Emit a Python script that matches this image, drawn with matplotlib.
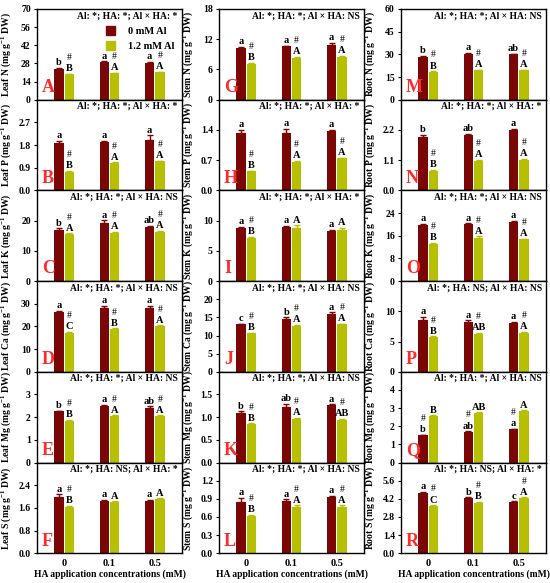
import numpy as np
import matplotlib

matplotlib.use("Agg")
import matplotlib.pyplot as plt
from matplotlib.patches import Patch

plt.rcParams.update({
    "font.family": ["Liberation Serif", "DejaVu Serif"],
    "font.weight": "bold",
    "mathtext.fontset": "custom",
    "mathtext.rm": "Liberation Serif:bold",
    "mathtext.it": "Liberation Serif:bold",
    "mathtext.bf": "Liberation Serif:bold",
    "axes.linewidth": 1.0,
})

C_CTRL = "#7a0606"
C_AL = "#b6c000"
C_TAG = "#ff2a2a"

ha_levels = ["0", "0.1", "0.5"]
elements = ["N", "P", "K", "Ca", "Mg", "S"]
organs = ["Leaf", "Stem", "Root"]
panel_tags = ["ABCDEF", "GHIJKL", "MNOPQR"]

# 0 mM Al means / SE, one row per element (N, P, K, Ca, Mg, S)
leaf_ctrl = [[23.5, 29.0, 28.5], [1.90, 1.92, 2.02], [17.0, 19.3, 18.0],
             [26.5, 28.3, 28.0], [2.25, 2.47, 2.40], [2.00, 1.85, 1.85]]
leaf_ctrl_se = [[1.2, 0.6, 0.6], [0.06, 0.05, 0.17], [0.4, 0.8, 0.3],
                [0.5, 0.8, 1.0], [0.04, 0.06, 0.07], [0.08, 0.03, 0.03]]
leaf_al = [[19.5, 20.5, 21.0], [0.75, 1.08, 1.15], [15.5, 16.0, 16.3],
           [17.3, 18.8, 20.2], [1.85, 2.05, 2.05], [1.63, 1.80, 1.90]]
leaf_al_se = [[0.4, 0.3, 0.4], [0.03, 0.03, 0.03], [0.3, 0.3, 0.3],
              [0.3, 0.3, 0.3], [0.03, 0.03, 0.03], [0.03, 0.03, 0.03]]

stem_ctrl = [[10.2, 10.6, 10.9], [1.33, 1.34, 1.37], [8.7, 9.0, 8.3],
             [13.1, 14.6, 16.0], [1.10, 1.23, 1.26], [0.85, 0.87, 0.93]]
stem_ctrl_se = [[0.3, 0.1, 0.4], [0.08, 0.08, 0.04], [0.3, 0.15, 0.2],
                [0.2, 0.4, 0.4], [0.03, 0.06, 0.02], [0.06, 0.02, 0.02]]
stem_al = [[7.1, 8.3, 8.5], [0.44, 0.66, 0.74], [7.2, 8.8, 8.5],
           [10.6, 12.6, 13.1], [0.84, 0.97, 0.93], [0.61, 0.77, 0.77]]
stem_al_se = [[0.2, 0.2, 0.2], [0.02, 0.02, 0.02], [0.15, 0.4, 0.3],
              [0.2, 0.3, 0.2], [0.02, 0.02, 0.03], [0.02, 0.02, 0.02]]

root_ctrl = [[28.0, 30.5, 30.0], [1.95, 2.02, 2.18], [19.7, 20.0, 20.8],
             [8.5, 8.3, 8.1], [1.50, 1.68, 1.82], [4.65, 4.25, 3.95]]
root_ctrl_se = [[0.8, 0.6, 0.3], [0.06, 0.03, 0.05], [0.4, 0.4, 0.4],
                [0.6, 0.2, 0.2], [0.04, 0.04, 0.04], [0.08, 0.05, 0.05]]
root_al = [[18.5, 19.5, 19.5], [0.72, 1.08, 1.12], [13.2, 15.3, 14.7],
           [5.7, 6.3, 6.4], [2.55, 2.72, 2.82], [3.65, 3.90, 4.25]]
root_al_se = [[0.3, 0.3, 0.3], [0.02, 0.02, 0.02], [0.3, 0.5, 0.3],
              [0.15, 0.15, 0.15], [0.05, 0.04, 0.05], [0.05, 0.05, 0.06]]

# significance letters (lower: 0 mM Al, upper: 1.2 mM Al), '#' = Al effect
leaf_low = ["b a a", "a a a", "b a ab", "a a a", "b a ab", "a a a"]
leaf_up = ["B A A", "B A A", "A A A", "C B A", "B A A", "B A A"]
leaf_hash = ["111", "111", "111", "111", "111", "100"]
stem_low = ["a a a", "a a a", "a a a", "c b a", "b ab a", "a a a"]
stem_up = ["B A A", "B A A", "B A A", "B A A", "B A AB", "B A A"]
stem_hash = ["111", "111", "100", "111", "111", "111"]
root_low = ["b a ab", "b ab a", "a a a", "a a a", "b ab a", "a b c"]
root_up = ["B A A", "B A A", "B A A", "B AB A", "B AB A", "C B A"]
root_hash = ["111", "111", "111", "111", "111", "111"]

leaf_stats = ["Al: *; HA: *; Al × HA: *", "Al: *; HA: *; Al × HA: *",
              "Al: *; HA: *; Al × HA: NS", "Al: *; HA: *; Al × HA: NS",
              "Al: *; HA: *; Al × HA: NS", "Al: *; HA: NS; Al × HA: *"]
stem_stats = ["Al: *; HA: *; Al × HA: NS", "Al: *; HA: *; Al × HA: *",
              "Al: *; HA: *; Al × HA: *", "Al: *; HA: *; Al × HA: NS",
              "Al: *; HA: *; Al × HA: NS", "Al: *; HA: *; Al × HA: NS"]
root_stats = ["Al: *; HA: *; Al × HA: NS", "Al: *; HA: *; Al × HA: *",
              "Al: *; HA: *; Al × HA: NS", "Al: *; HA: NS; Al × HA: NS",
              "Al: *; HA: *; Al × HA: NS", "Al: *; HA: NS; Al × HA: *"]

# y-axis (top, step, decimals) per element
leaf_axis = [(70, 14, 0), (3.6, 0.9, 1), (30, 10, 0), (40, 10, 0), (4, 1, 0), (3.2, 0.8, 1)]
stem_axis = [(18, 6, 0), (2.1, 0.7, 1), (15, 5, 0), (25, 5, 0), (2.0, 0.5, 1), (1.5, 0.3, 1)]
root_axis = [(60, 15, 0), (3.3, 1.1, 1), (32, 8, 0), (15, 5, 0), (5, 1, 0), (7, 1.4, 1)]

columns = [
    (leaf_ctrl, leaf_ctrl_se, leaf_al, leaf_al_se, leaf_low, leaf_up, leaf_hash, leaf_stats, leaf_axis),
    (stem_ctrl, stem_ctrl_se, stem_al, stem_al_se, stem_low, stem_up, stem_hash, stem_stats, stem_axis),
    (root_ctrl, root_ctrl_se, root_al, root_al_se, root_low, root_up, root_hash, root_stats, root_axis),
]

fig = plt.figure(figsize=(5.5, 5.83), dpi=100)
lefts = [37 / 550, 219 / 550, 401 / 550]
width = 145 / 550
top_px, row_px = 9, 90.7
x = np.arange(3)
bw, off = 0.21, 0.115

for c, (ctrl, ctrl_se, al, al_se, low, up, hashes, stats, yax) in enumerate(columns):
    for r in range(6):
        bottom = 1 - (top_px + (r + 1) * row_px) / 583
        ax = fig.add_axes([lefts[c], bottom, width, row_px / 583])
        ax.bar(x - off, ctrl[r], bw, color=C_CTRL, zorder=2)
        ax.bar(x + off, al[r], bw, color=C_AL, zorder=2)
        ax.errorbar(x - off, ctrl[r], yerr=[[0] * 3, ctrl_se[r]], fmt="none",
                    ecolor=C_CTRL, elinewidth=1, capsize=2, capthick=1, zorder=3)
        ax.errorbar(x + off, al[r], yerr=[[0] * 3, al_se[r]], fmt="none",
                    ecolor=C_AL, elinewidth=1, capsize=2, capthick=1, zorder=3)

        top, step, dec = yax[r]
        ax.set_ylim(0, top)
        ax.set_xlim(-0.6, 2.6)
        n = int(round(top / step))
        ticks = [i * step for i in range(n + 1 if r == 0 else n)]
        ax.set_yticks(ticks)
        ax.set_yticklabels([f"{t:.{dec}f}" for t in ticks], fontsize=7, fontweight="bold")
        ax.tick_params(axis="y", direction="out", length=2.5, width=0.8, pad=2)
        if r == 5:
            ax.set_xticks(x)
            ax.set_xticklabels(ha_levels, fontsize=7.5, fontweight="bold")
            ax.tick_params(axis="x", length=0, pad=4)
            ax.set_xlabel("HA application concentrations (mM)", fontsize=6.9,
                          fontweight="bold", labelpad=1)
        else:
            ax.set_xticks([])

        ax.set_ylabel(f"{organs[c]} {elements[r]} (mg g$^{{-1}}$ DW)",
                      fontsize=6.9, fontweight="bold")
        ax.yaxis.set_label_coords(-0.165, 0.5)

        lows = low[r].split()
        ups = up[r].split()
        for i in range(3):
            yc = ctrl[r][i] + ctrl_se[r][i]
            ya = al[r][i] + al_se[r][i]
            ax.annotate(lows[i], (x[i] - off, yc), xytext=(0, 0.5), textcoords="offset points",
                        ha="center", va="bottom", fontsize=7.5, fontweight="bold")
            ax.annotate(ups[i], (x[i] + off, ya), xytext=(0, 0.5), textcoords="offset points",
                        ha="center", va="bottom", fontsize=7.5, fontweight="bold")
            if hashes[r][i] == "1":
                # root Mg: the Al mark sits over the control bar
                if c == 2 and r == 4:
                    hx, hy = x[i] - off, yc
                else:
                    hx, hy = x[i] + off, ya
                ax.annotate("#", (hx, hy), xytext=(0, 8.5), textcoords="offset points",
                            ha="center", va="bottom", fontsize=7, fontweight="normal")

        ax.text(0.97, 0.975, stats[r], transform=ax.transAxes, ha="right", va="top",
                fontsize=6.9, fontweight="bold")
        ax.text(0.035, 0.04, panel_tags[c][r], transform=ax.transAxes, ha="left",
                va="bottom", fontsize=13, fontweight="bold", color=C_TAG)

        if c == 0 and r == 0:
            handles = [Patch(color=C_CTRL, label="0 mM Al"),
                       Patch(color=C_AL, label="1.2 mM Al")]
            ax.legend(handles=handles, loc="upper left", bbox_to_anchor=(0.44, 0.875),
                      frameon=False, handlelength=0.9, handleheight=1.0,
                      handletextpad=1.2, labelspacing=0.5, borderpad=0,
                      prop={"weight": "bold", "size": 7.5})

fig.savefig("out.png", dpi=100)
